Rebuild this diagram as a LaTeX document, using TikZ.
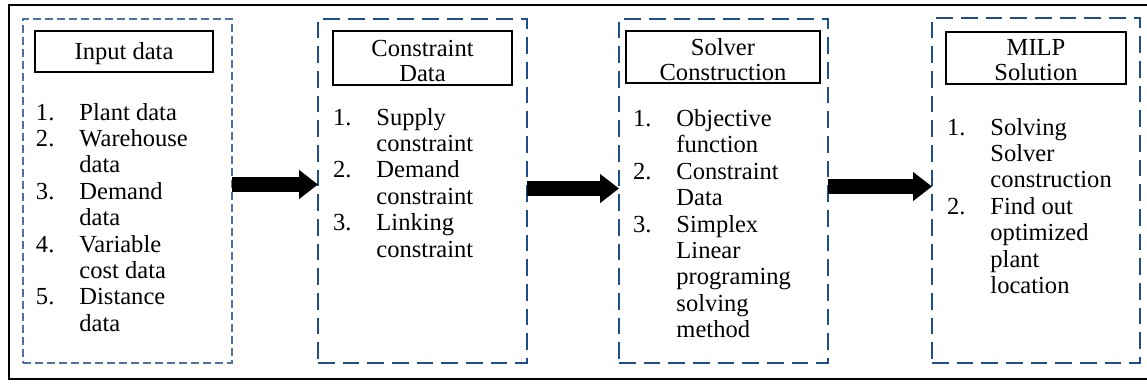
\documentclass[tikz,border=0pt]{standalone}
\usepackage{fontspec}
\setmainfont{Liberation Serif}
\usetikzlibrary{arrows.meta,fit,calc}
\definecolor{boxA}{HTML}{5070A0}
\definecolor{boxB}{HTML}{1F4E8C}
\newcommand{\itemrow}[2]{\makebox[32.6pt][l]{#1}#2}
\newcommand{\controw}[1]{\hspace*{32.6pt}#1}
\begin{document}
\begin{tikzpicture}[x=0.75pt,y=-0.75pt,
  every node/.style={inner sep=0pt, outer sep=0pt},
  dboxA/.style={draw=boxA, line width=1.1pt, dash pattern=on 6pt off 3pt},
  dboxB/.style={draw=boxB, line width=1.6pt, dash pattern=on 12.5pt off 6pt},
  tbox/.style={draw=black, line width=1.3pt},
  ttext/.style={align=center, font=\fontsize{18.4}{18.75}\selectfont},
  ltext/.style={align=left, anchor=north west, font=\fontsize{18.4}{19.8}\selectfont},
  bigarrow/.style={line width=11.25pt, -{Triangle[length=14.25pt,width=21pt]}},
]
\useasboundingbox (0,0) rectangle (1147,383);
\draw[line width=1.5pt] (1147,5) -- (9,5) -- (9,379) -- (1147,379);

% dashed stage boxes
\node[dboxA, fit={(23,19) (232,363)}] (b1) {};
\node[dboxB, fit={(318,19) (527,363)}] (b2) {};
\node[dboxB, fit={(619,19) (828,363)}] (b3) {};
\node[dboxB, fit={(932,18) (1140,363)}] (b4) {};

% title boxes
\node[tbox, fit={(35,31) (213,72)}] (t1) {};
\node[ttext] (t1l) at ($(t1.center)+(0,2)$) {Input data};
\node[tbox, fit={(333,31) (512,85)}] (t2) {};
\node[ttext] (t2l) at ($(t2.center)+(0,2.5)$) {Constraint\\Data};
\node[tbox, fit={(626,31) (820,83)}] (t3) {};
\node[ttext] (t3l) at ($(t3.center)+(0,2.5)$) {Solver\\Construction};
\node[tbox, fit={(946,32) (1126,84)}] (t4) {};
\node[ttext] (t4l) at ($(t4.center)+(0,2.5)$) {MILP\\Solution};

% lists
\node[ltext] (l1) at (36,103) {\itemrow{1.}{Plant data}\\
\itemrow{2.}{Warehouse}\\
\controw{data}\\
\itemrow{3.}{Demand}\\
\controw{data}\\
\itemrow{4.}{Variable}\\
\controw{cost data}\\
\itemrow{5.}{Distance}\\
\controw{data}};

\node[ltext] (l2) at (333,108) {\itemrow{1.}{Supply}\\
\controw{constraint}\\
\itemrow{2.}{Demand}\\
\controw{constraint}\\
\itemrow{3.}{Linking}\\
\controw{constraint}};

\node[ltext] (l3) at (633,109.5) {\itemrow{1.}{Objective}\\
\controw{function}\\
\itemrow{2.}{Constraint}\\
\controw{Data}\\
\itemrow{3.}{Simplex}\\
\controw{Linear}\\
\controw{programing}\\
\controw{solving}\\
\controw{method}};

\node[ltext] (l4) at (947,118) {\itemrow{1.}{Solving}\\
\controw{Solver}\\
\controw{construction}\\
\itemrow{2.}{Find out}\\
\controw{optimized}\\
\controw{plant}\\
\controw{location}};

% arrows
\coordinate (y1) at (0,184.5);
\coordinate (y2) at (0,188.5);
\coordinate (y3) at (0,186.5);
\draw[bigarrow] (b1.east |- y1) -- (b2.west |- y1);
\draw[bigarrow] (b2.east |- y2) -- (b3.west |- y2);
\draw[bigarrow] (b3.east |- y3) -- (b4.west |- y3);
\end{tikzpicture}
\end{document}
